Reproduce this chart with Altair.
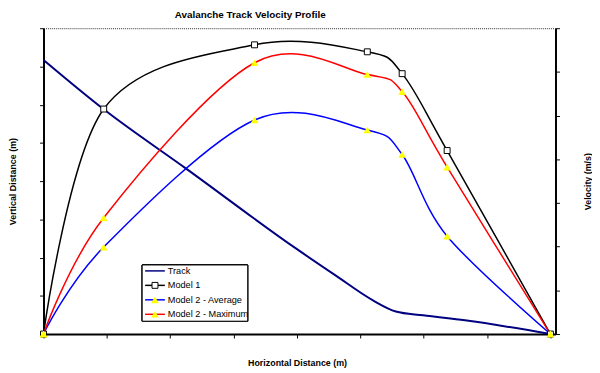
import altair as alt
import pandas as pd

FONT = "Liberation Sans"

# ---- data ----
# horizontal distance (m) of the model sample points
model_x = [0, 95, 333, 511, 566, 637, 800]
model1_v = [0, 5.15, 6.62, 6.46, 5.96, 4.20, 0]
model2_avg_v = [0, 1.99, 4.90, 4.67, 4.11, 2.24, 0]
model2_max_v = [0, 2.66, 6.21, 5.94, 5.55, 3.82, 0]

# track profile: horizontal distance (m) vs vertical distance (m)
track_x = [0, 95, 224, 400, 462, 520, 556, 599, 665, 800]
track_z = [717, 588, 434, 222, 152, 88, 59, 49, 36, 0]

series_names = ["Track", "Model 1", "Model 2 - Average", "Model 2 - Maximum"]
series_colors = ["#000080", "#000000", "#0000FF", "#FF0000"]

x_ticks = list(range(0, 801, 100))
z_ticks = list(range(0, 801, 100))
v_ticks = list(range(0, 8))

# ---- tables ----
track_df = pd.DataFrame({"x": track_x, "z": track_z, "series": "Track"})
rows = []
for name, vals in [("Model 1", model1_v), ("Model 2 - Average", model2_avg_v),
                   ("Model 2 - Maximum", model2_max_v)]:
    for xv, vv in zip(model_x, vals):
        rows.append({"series": name, "x": xv, "v": vv})
models_df = pd.DataFrame(rows)
legend_df = pd.DataFrame({"series": series_names})

# ---- scales / axes ----
x_scale = alt.Scale(domain=[0, 808], nice=False, zero=False)
z_scale = alt.Scale(domain=[0, 800], nice=False)
v_scale = alt.Scale(domain=[0, 7], nice=False)
stroke_scale = alt.Scale(domain=series_names, range=series_colors)

axis_common = dict(labels=False, grid=False, ticks=True, tickSize=4, tickColor="black",
                   tickWidth=1, domainColor="black", domainWidth=2,
                   titleFont=FONT, titleFontSize=9, titleFontWeight="bold",
                   titleColor="black", titleAlign="center", titleBaseline="middle")

x_axis = alt.Axis(values=x_ticks, title="Horizontal Distance (m)",
                  titleX=257, titleY=29, **axis_common)
z_axis = alt.Axis(values=z_ticks, orient="left", title="Vertical Distance (m)",
                  titleAngle=270, titleX=-31, titleY=155, **axis_common)
v_axis = alt.Axis(values=v_ticks, orient="right", title="Velocity (m/s)",
                  titleAngle=270, titleX=32, titleY=155, **axis_common)

# ---- data layers ----
track = alt.Chart(track_df).mark_line(strokeWidth=2, interpolate="monotone").encode(
    x=alt.X("x:Q", scale=x_scale, axis=x_axis),
    y=alt.Y("z:Q", scale=z_scale, axis=z_axis),
    stroke=alt.Stroke("series:N", scale=stroke_scale, legend=None),
)

base = alt.Chart(models_df)
model_lines = base.mark_line(strokeWidth=1.5, interpolate="cardinal").encode(
    x=alt.X("x:Q", scale=x_scale, axis=x_axis),
    y=alt.Y("v:Q", scale=v_scale, axis=v_axis),
    stroke=alt.Stroke("series:N", scale=stroke_scale, legend=None),
)
squares = base.transform_filter(alt.datum.series == "Model 1").mark_point(
    shape="square", filled=True, fill="white", stroke="black", strokeWidth=1, size=36, opacity=1
).encode(
    x=alt.X("x:Q", scale=x_scale, axis=x_axis),
    y=alt.Y("v:Q", scale=v_scale, axis=v_axis),
)
triangles = base.transform_filter(alt.datum.series != "Model 1").mark_point(
    shape="triangle-up", filled=True, fill="#ffff00", strokeWidth=0, size=60, opacity=1
).encode(
    x=alt.X("x:Q", scale=x_scale, axis=x_axis),
    y=alt.Y("v:Q", scale=v_scale, axis=v_axis),
)
velocity = alt.layer(model_lines, squares, triangles)

# ---- legend (boxed, inside the plot, lower left) ----
legend_y = alt.Scale(type="point", domain=series_names, range=[246, 290], padding=0)
leg = alt.Chart(legend_df)
leg_box = leg.mark_rect(fill="white", stroke="black", strokeWidth=1).encode(
    x=alt.value(100), x2=alt.value(207), y=alt.value(240), y2=alt.value(297)
)
leg_lines = leg.mark_rule(strokeWidth=1.5).encode(
    x=alt.value(103), x2=alt.value(123),
    y=alt.Y("series:N", scale=legend_y, axis=None),
    stroke=alt.Stroke("series:N", scale=stroke_scale, legend=None),
)
leg_squares = leg.transform_filter(alt.datum.series == "Model 1").mark_point(
    shape="square", filled=True, fill="white", stroke="black", strokeWidth=1, size=36, opacity=1
).encode(x=alt.value(113), y=alt.Y("series:N", scale=legend_y, axis=None))
leg_tris = leg.transform_filter(
    (alt.datum.series == "Model 2 - Average") | (alt.datum.series == "Model 2 - Maximum")
).mark_point(
    shape="triangle-up", filled=True, fill="#ffff00", strokeWidth=0, size=60, opacity=1
).encode(x=alt.value(113), y=alt.Y("series:N", scale=legend_y, axis=None))
leg_text = leg.mark_text(align="left", baseline="middle", font=FONT, fontSize=9.3,
                         color="black").encode(
    x=alt.value(126), y=alt.Y("series:N", scale=legend_y, axis=None), text="series:N"
)
legend_group = alt.layer(leg_box, leg_lines, leg_squares, leg_tris, leg_text)

chart = alt.layer(track, velocity, legend_group).resolve_scale(y="independent").properties(
    width=519, height=310,
    autosize=alt.AutoSizeParams(type="none"),
    padding={"left": 36, "top": 18, "right": 37, "bottom": 37},
    title=alt.Title("Avalanche Track Velocity Profile", font=FONT, fontSize=10,
                    fontWeight="bold", color="black", anchor="middle", frame="group",
                    dx=-50, offset=8),
).configure(font=FONT, background="white").configure_view(
    stroke="#333333", strokeDash=[1, 1], strokeWidth=1
)

chart.save("out.html", embed_options={"renderer": "svg", "actions": False})
